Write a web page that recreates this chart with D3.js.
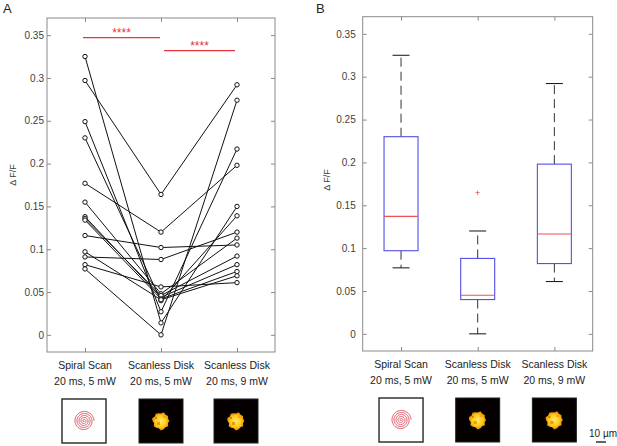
<!DOCTYPE html>
<html>
<head>
<meta charset="utf-8">
<script src="https://cdn.jsdelivr.net/npm/d3@7"></script>
<style>
  body { margin: 0; background: #fff; }
  text { font-family: "Liberation Sans", Arial, sans-serif; }
</style>
</head>
<body>
<div id="chart"></div>
<script>
// Paired dF/F per cell, one entry per cell in each condition
const catTitles = ["Spiral Scan", "Scanless Disk", "Scanless Disk"];
const catSettings = ["20 ms, 5 mW", "20 ms, 5 mW", "20 ms, 9 mW"];

const spiralScan = [0.325, 0.297, 0.249, 0.230, 0.177, 0.155, 0.138, 0.136, 0.134, 0.116, 0.097, 0.091, 0.082, 0.077];
const disk5mW    = [0.014, 0.164, 0.027, 0.040, 0.120, 0.048, 0.044, 0.046, 0.042, 0.102, 0.041, 0.088, 0.056, 0.000];
const disk9mW    = [0.150, 0.292, 0.217, 0.139, 0.198, 0.113, 0.082, 0.092, 0.074, 0.105, 0.069, 0.120, 0.061, 0.274];

const yTicks = [0, 0.05, 0.1, 0.15, 0.2, 0.25, 0.3, 0.35];
const yTickLabels = ["0", "0.05", "0.1", "0.15", "0.2", "0.25", "0.3", "0.35"];

// significance bars: from category, to category, level, label
const sigFrom = [1, 2];
const sigTo = [2, 3];
const sigLevel = [0.347, 0.332];
const sigLabel = ["****", "****"];

const width = 617, height = 446;
const red = "#e8343c";

const svg = d3.select("#chart").append("svg")
    .attr("width", width)
    .attr("height", height);

const groups = [spiralScan, disk5mW, disk9mW];

// MATLAB-style percentile (used by boxplot)
function prc(sorted, p) {
    const n = sorted.length;
    const pos = n * p + 0.5;
    if (pos <= 1) return sorted[0];
    if (pos >= n) return sorted[n - 1];
    const lo = Math.floor(pos);
    return sorted[lo - 1] + (pos - lo) * (sorted[lo] - sorted[lo - 1]);
}

function drawFrame(x, y, pad, labelX, labelY) {
    const g = svg.append("g");
    const [x0, x1] = x.range();
    const [y0, y1] = y.range();

    const left = g.append("g").attr("transform", `translate(${x0},0)`)
        .call(d3.axisLeft(y).tickValues(yTicks).tickFormat((d, i) => yTickLabels[i]).tickSize(-4).tickPadding(pad));
    g.append("g").attr("transform", `translate(${x1},0)`)
        .call(d3.axisRight(y).tickValues(yTicks).tickFormat("").tickSize(-4));
    g.append("g").attr("transform", `translate(0,${y0})`)
        .call(d3.axisBottom(x).tickValues([1, 2, 3]).tickFormat("").tickSize(-4));
    g.append("g").attr("transform", `translate(0,${y1})`)
        .call(d3.axisTop(x).tickValues([1, 2, 3]).tickFormat("").tickSize(-4));

    g.selectAll(".domain").remove();
    g.selectAll(".tick line").attr("stroke", "#8a8a8a");
    left.selectAll("text").attr("fill", "#404040").style("font-size", "10px")
        .style("font-family", '"Liberation Sans", Arial, sans-serif');

    g.append("rect")
        .attr("x", x0).attr("y", y1)
        .attr("width", x1 - x0).attr("height", y0 - y1)
        .attr("fill", "none").attr("stroke", "#8a8a8a");

    // y label
    g.append("text")
        .attr("transform", `translate(${labelX},${labelY}) rotate(-90)`)
        .attr("text-anchor", "middle")
        .attr("font-size", "9px")
        .attr("fill", "#404040")
        .text("\u0394 F/F");

    // category labels
    const cats = g.selectAll(".cat").data(catTitles).join("text")
        .attr("class", "cat")
        .attr("text-anchor", "middle")
        .attr("font-size", "10.5px")
        .attr("fill", "#222");
    cats.append("tspan").attr("x", (d, i) => x(i + 1)).attr("y", y0 + 17).text(d => d);
    cats.append("tspan").attr("x", (d, i) => x(i + 1)).attr("y", y0 + 33).text((d, i) => catSettings[i]);
    return g;
}

function drawSpiral(cx, top) {
    const g = svg.append("g");
    g.append("rect").attr("x", cx - 22).attr("y", top).attr("width", 44).attr("height", 44)
        .attr("fill", "#fff").attr("stroke", "#333").attr("stroke-width", 1.5);
    const turns = 5, rMax = 10;
    const pts = d3.range(0, turns * 2 * Math.PI, 0.06).map(t => {
        const r = rMax * t / (turns * 2 * Math.PI);
        return [cx + r * Math.cos(t), top + 22 + r * Math.sin(t)];
    });
    g.append("path").attr("d", d3.line()(pts))
        .attr("fill", "none").attr("stroke", "#e04a5a").attr("stroke-width", 1);
}

const blobR = [8.4, 7.3, 9.0, 7.6, 8.6, 9.4, 7.5, 8.3, 9.1, 7.2, 8.5, 9.3, 7.6, 8.9, 8.1, 7.4, 9.2, 7.8, 8.7, 7.5];
function drawBlob(cx, top, id) {
    const g = svg.append("g");
    g.append("rect").attr("x", cx - 22).attr("y", top).attr("width", 44).attr("height", 44)
        .attr("fill", "#050000").attr("stroke", "#222");
    const grad = svg.append("defs").append("radialGradient").attr("id", id);
    grad.append("stop").attr("offset", "0%").attr("stop-color", "#ffe86a");
    grad.append("stop").attr("offset", "60%").attr("stop-color", "#ffcc1a");
    grad.append("stop").attr("offset", "100%").attr("stop-color", "#e88a00");
    const cy = top + 22;
    const pts = blobR.map((r, i) => {
        const a = 2 * Math.PI * i / blobR.length;
        return [cx + r * Math.cos(a), cy + r * Math.sin(a)];
    });
    g.append("path").attr("d", d3.line().curve(d3.curveLinearClosed)(pts))
        .attr("fill", `url(#${id})`);
    g.append("rect").attr("x", cx - 4).attr("y", cy + 1).attr("width", 3).attr("height", 3).attr("fill", "#e89a10");
    g.append("rect").attr("x", cx + 2).attr("y", cy - 5).attr("width", 3).attr("height", 2).attr("fill", "#f0a818");
    g.append("rect").attr("x", cx - 6).attr("y", cy - 4).attr("width", 2).attr("height", 2).attr("fill", "#d88000");
}

// ---------- Panel A ----------
const xA = d3.scaleLinear().domain([0.5, 3.5]).range([47, 275]);
const yA = d3.scaleLinear().domain([-0.02, 0.37]).range([352, 18]);
drawFrame(xA, yA, 3, 16, 175);

const pairs = spiralScan.map((v, i) => [v, disk5mW[i], disk9mW[i]]);
const line = d3.line().x((d, i) => xA(i + 1)).y(d => yA(d));
const gA = svg.append("g");
gA.selectAll(".cell").data(pairs).join("path")
    .attr("class", "cell")
    .attr("d", line)
    .attr("fill", "none").attr("stroke", "#111").attr("stroke-width", 1);
gA.selectAll(".pt").data(pairs.flatMap(p => p.map((v, j) => ({ v, j }))))
    .join("circle")
    .attr("class", "pt")
    .attr("cx", d => xA(d.j + 1)).attr("cy", d => yA(d.v))
    .attr("r", 2.2).attr("fill", "#fff").attr("stroke", "#111").attr("stroke-width", 1);

// significance bars
const inset = [[-2, -1], [3, -2]];
sigLevel.forEach((lv, i) => {
    const xa = xA(sigFrom[i]) + inset[i][0], xb = xA(sigTo[i]) + inset[i][1];
    gA.append("line").attr("x1", xa).attr("x2", xb).attr("y1", yA(lv)).attr("y2", yA(lv))
        .attr("stroke", red).attr("stroke-width", 1.3);
    gA.append("text").attr("x", (xa + xb) / 2).attr("y", yA(lv) - 1)
        .attr("text-anchor", "middle").attr("font-size", "12px").attr("fill", red)
        .text(sigLabel[i]);
});

// ---------- Panel B ----------
const xB = d3.scaleLinear().domain([0.5, 3.5]).range([362.7, 592.7]);
const yB = d3.scaleLinear().domain([-0.02, 0.37]).range([351, 16.7]);
drawFrame(xB, yB, 7, 330, 180);

const stats = groups.map(vals => {
    const s = vals.slice().sort(d3.ascending);
    const q1 = prc(s, 0.25), med = prc(s, 0.5), q3 = prc(s, 0.75);
    const iqr = q3 - q1;
    const inside = s.filter(v => v >= q1 - 1.5 * iqr && v <= q3 + 1.5 * iqr);
    return {
        q1, med, q3,
        lo: d3.min(inside), hi: d3.max(inside),
        out: s.filter(v => v < q1 - 1.5 * iqr || v > q3 + 1.5 * iqr)
    };
});

const boxW = 34, capW = 17;
const gB = svg.append("g");
stats.forEach((st, i) => {
    const cx = xB(i + 1);
    // whiskers
    [[st.q3, st.hi], [st.q1, st.lo]].forEach(([a, b]) => {
        gB.append("line").attr("x1", cx).attr("x2", cx).attr("y1", yB(a)).attr("y2", yB(b))
            .attr("stroke", "#333").attr("stroke-dasharray", "9,5");
        gB.append("line").attr("x1", cx - capW / 2).attr("x2", cx + capW / 2)
            .attr("y1", yB(b)).attr("y2", yB(b)).attr("stroke", "#111");
    });
    gB.append("rect").attr("x", cx - boxW / 2).attr("y", yB(st.q3))
        .attr("width", boxW).attr("height", yB(st.q1) - yB(st.q3))
        .attr("fill", "none").attr("stroke", "#5050e6").attr("stroke-width", 1.1);
    gB.append("line").attr("x1", cx - boxW / 2).attr("x2", cx + boxW / 2)
        .attr("y1", yB(st.med)).attr("y2", yB(st.med))
        .attr("stroke", "#f0505a").attr("stroke-width", 1.1);
    st.out.forEach(v => {
        gB.append("text").attr("x", cx).attr("y", yB(v) + 3)
            .attr("text-anchor", "middle").attr("font-size", "9px").attr("fill", red).text("+");
    });
});

// panel letters
svg.append("text").attr("x", 3).attr("y", 13).attr("font-size", "13px").attr("fill", "#222").text("A");
svg.append("text").attr("x", 316).attr("y", 13).attr("font-size", "13px").attr("fill", "#222").text("B");

// illustrations under the categories
drawSpiral(xA(1) - 1, 399);
drawBlob(xA(2), 399, "gA2");
drawBlob(xA(3) - 1, 399, "gA3");
drawSpiral(xB(1), 398);
drawBlob(xB(2), 398, "gB2");
drawBlob(xB(3), 398, "gB3");

// scale bar
svg.append("text").attr("x", 589).attr("y", 437).attr("font-size", "10px").attr("fill", "#222").text("10 \u00b5m");
svg.append("line").attr("x1", 596).attr("x2", 606).attr("y1", 442).attr("y2", 442)
    .attr("stroke", "#111").attr("stroke-width", 1.3);
</script>
</body>
</html>
